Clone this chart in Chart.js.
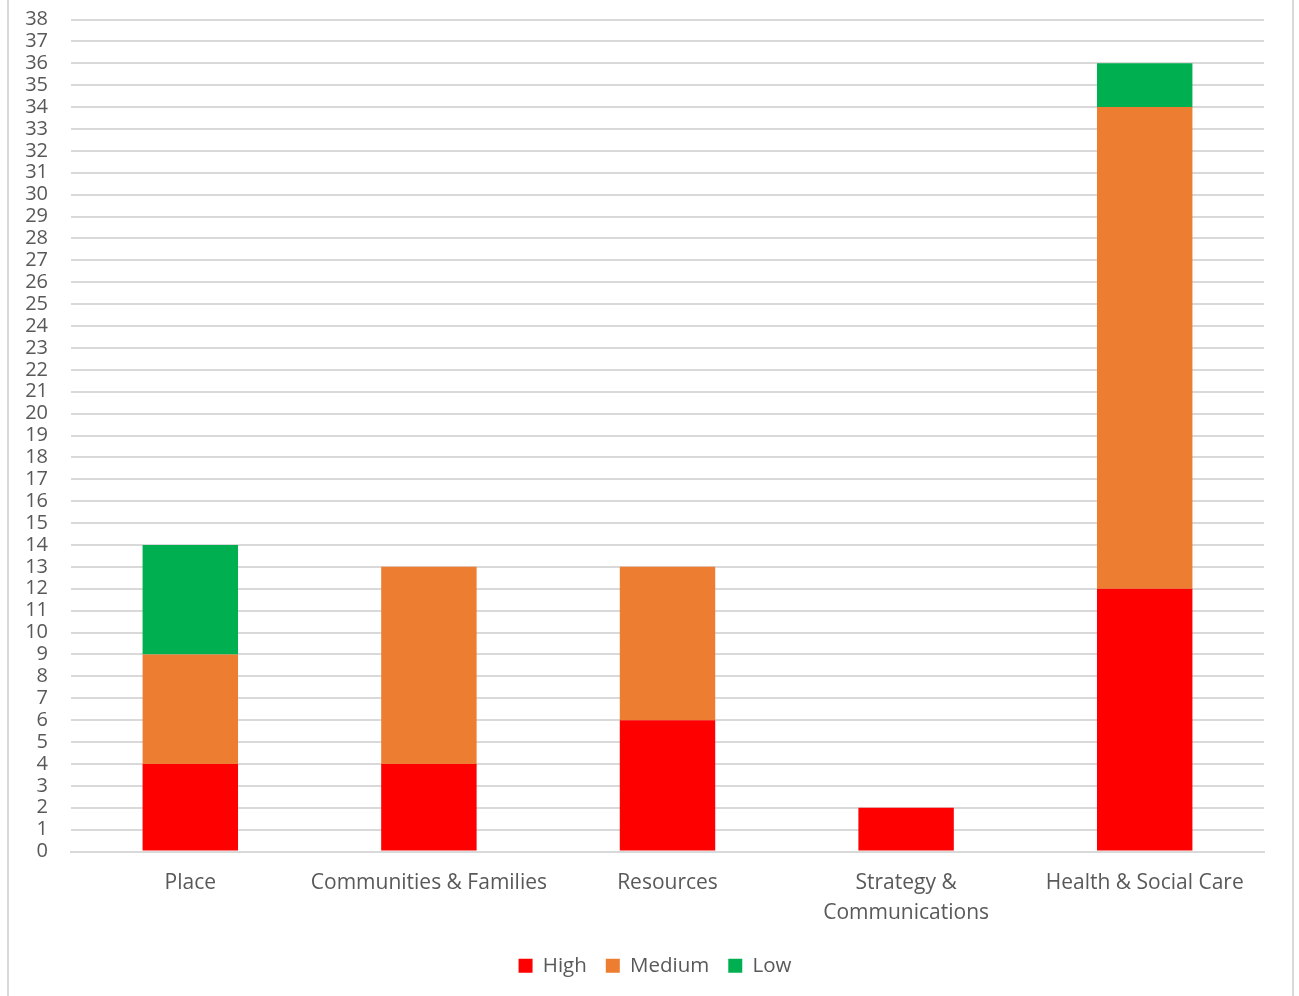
<!DOCTYPE html>
<html>
<head>
<meta charset="utf-8">
<script src="https://cdn.jsdelivr.net/npm/chart.js@4"></script>
<style>
html,body{margin:0;padding:0;background:#fff;}
#wrap{position:absolute;left:0;top:0;width:1299px;height:996px;}
#frame{position:absolute;left:7px;top:-5px;width:1283px;height:1010px;border-left:2px solid #d9d9d9;border-right:2px solid #d9d9d9;pointer-events:none;}
canvas{display:block;}
</style>
</head>
<body>
<div id="wrap"><canvas id="c" width="1299" height="996"></canvas></div>
<div id="frame"></div>
<script>
const categories = ["Place", "Communities & Families", "Resources", ["Strategy &", "Communications"], "Health & Social Care"];
const highValues = [4, 4, 6, 2, 12];
const mediumValues = [5, 9, 7, 0, 22];
const lowValues = [5, 0, 0, 0, 2];
const yMin = 0, yMax = 38, yStep = 1;

const FONT = "'Open Sans', 'Noto Sans', sans-serif";
const TXT = '#595959';

// centre the legend on the page (Chart.js centres it on the area left of the right padding)
const legendShift = {
  id: 'legendShift',
  afterLayout(chart) {
    const lg = chart.legend;
    if (lg) { lg.left += 23; lg.right += 23; if (lg.adjustHitBoxes) lg.adjustHitBoxes(); }
  }
};

new Chart(document.getElementById('c'), {
  type: 'bar',
  data: {
    labels: categories,
    datasets: [
      {label: 'High', data: highValues, backgroundColor: '#ff0000'},
      {label: 'Medium', data: mediumValues, backgroundColor: '#ed7d31'},
      {label: 'Low', data: lowValues, backgroundColor: '#00b050'}
    ]
  },
  plugins: [legendShift],
  options: {
    responsive: false,
    animation: false,
    layout: {padding: {left: 0, right: 35, top: 19.5, bottom: 10}},
    datasets: {bar: {categoryPercentage: 1, barPercentage: 0.4, borderWidth: 0}},
    plugins: {
      tooltip: {enabled: false},
      legend: {
        position: 'bottom',
        labels: {
          boxWidth: 14, boxHeight: 14, padding: 19,
          color: TXT, font: {family: FONT, size: 20.5}
        }
      }
    },
    scales: {
      x: {
        stacked: true,
        grid: {display: false, drawTicks: false},
        border: {display: true, color: '#d9d9d9', width: 2},
        ticks: {color: TXT, font: {family: FONT, size: 21, lineHeight: 1.4}, padding: 17, maxRotation: 0, autoSkip: false},
        afterFit: s => { s.height = 85; }
      },
      y: {
        stacked: true,
        min: yMin, max: yMax,
        grid: {color: '#d9d9d9', lineWidth: 2, drawTicks: true, tickLength: 19, tickColor: 'rgba(0,0,0,0)'},
        border: {display: false},
        ticks: {stepSize: yStep, color: TXT, font: {family: FONT, size: 20}, padding: 4, autoSkip: false},
        afterFit: s => { s.width = 71; }
      }
    }
  }
});
</script>
</body>
</html>
